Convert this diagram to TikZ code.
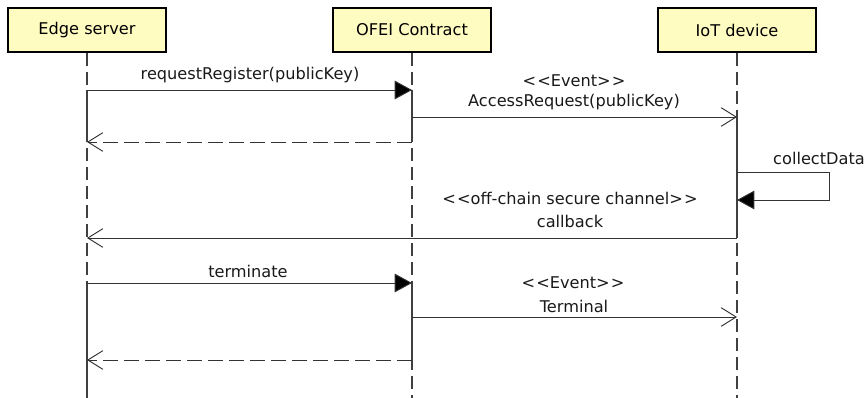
\documentclass[tikz,border=0pt]{standalone}
\usepackage{fontspec}
\setmainfont{DejaVu Sans}
\usetikzlibrary{arrows.meta}
\newcommand\stereo[1]{<\kern1pt<#1>\kern1pt>}

\tikzset{
  actor/.style={draw=black, line width=2.2pt, fill=yellow!24, minimum width=4.74cm, minimum height=1.32cm, inner sep=0pt},
  lifeline/.style={line width=0.9pt, black!75, dash pattern=on 0.39cm off 0.18cm},
  active/.style={line width=0.9pt, black!75},
  call/.style={line width=0.8pt, black!80, -{Triangle[length=0.52cm, width=0.56cm, fill=black]}},
  signal/.style={line width=0.8pt, black!80, -{Straight Barb[length=0.45cm, width=0.56cm]}},
  reply/.style={signal, dash pattern=on 0.45cm off 0.18cm},
  msg/.style={anchor=base, inner sep=0pt, text=black!90}
}

\begin{document}
\begin{tikzpicture}[x=0.03cm, y=-0.03cm, font=\fontsize{13.8}{16}\selectfont]
			%%%%% START %%%%%
			\useasboundingbox (0,0) rectangle (865,398);
			
			\node[actor] (es) at (87, 30) {Edge server};
			\node[actor] (oc) at (412, 30) {OFEI Contract};
			\node[actor] (iot) at (737, 30) {IoT device};
			
			% rows of the messages
			\coordinate (r1) at (0, 90);
			\coordinate (r2) at (0, 117);
			\coordinate (r3) at (0, 142);
			\coordinate (r4) at (0, 172);
			\coordinate (r5) at (0, 200);
			\coordinate (r6) at (0, 238);
			\coordinate (r7) at (0, 283);
			\coordinate (r8) at (0, 317);
			\coordinate (r9) at (0, 360);
			\coordinate (end) at (0, 398);
			\coordinate (loop) at (829, 0);
			
			\draw[lifeline] (es.south) -- (es |- end);
			\draw[lifeline] (oc.south) -- (oc |- end);
			\draw[lifeline] (iot.south) -- (iot |- end);
			
			\draw[active] (es |- r1) -- (es |- r3);
			\draw[active] (es |- r7) -- (es |- end);
			\draw[active] (oc |- r1) -- (oc |- r3);
			\draw[active] (oc |- r7) -- (oc |- r9);
			\draw[active] (iot |- r2) -- (iot |- r6);
			
			\draw[call] (es |- r1) -- (oc |- r1);
			\node[msg] at (250, 80) {requestRegister(publicKey)};
			
			\draw[signal] (oc |- r2) -- (iot |- r2);
			\node[msg] at (574, 87) {\stereo{Event}};
			\node[msg] at (574, 107) {AccessRequest(publicKey)};
			
			\draw[reply] (oc |- r3) -- (es |- r3);
			
			\draw[call] (iot |- r4) -- (loop |- r4) -- (loop |- r5) -- (iot |- r5);
			\node[msg] at (819, 165) {collectData};
			
			\draw[signal] (iot |- r6) -- (es |- r6);
			\node[msg] at (570, 205) {\stereo{off-chain secure channel}};
			\node[msg] at (570, 227) {callback};
			
			\draw[call] (es |- r7) -- (oc |- r7);
			\node[msg] at (248, 277) {terminate};
			
			\draw[signal] (oc |- r8) -- (iot |- r8);
			\node[msg] at (573, 288) {\stereo{Event}};
			\node[msg] at (574, 312) {Terminal};
			
			\draw[reply] (oc |- r9) -- (es |- r9);
			
			%%%%% END %%%%%
\end{tikzpicture}
\end{document}
